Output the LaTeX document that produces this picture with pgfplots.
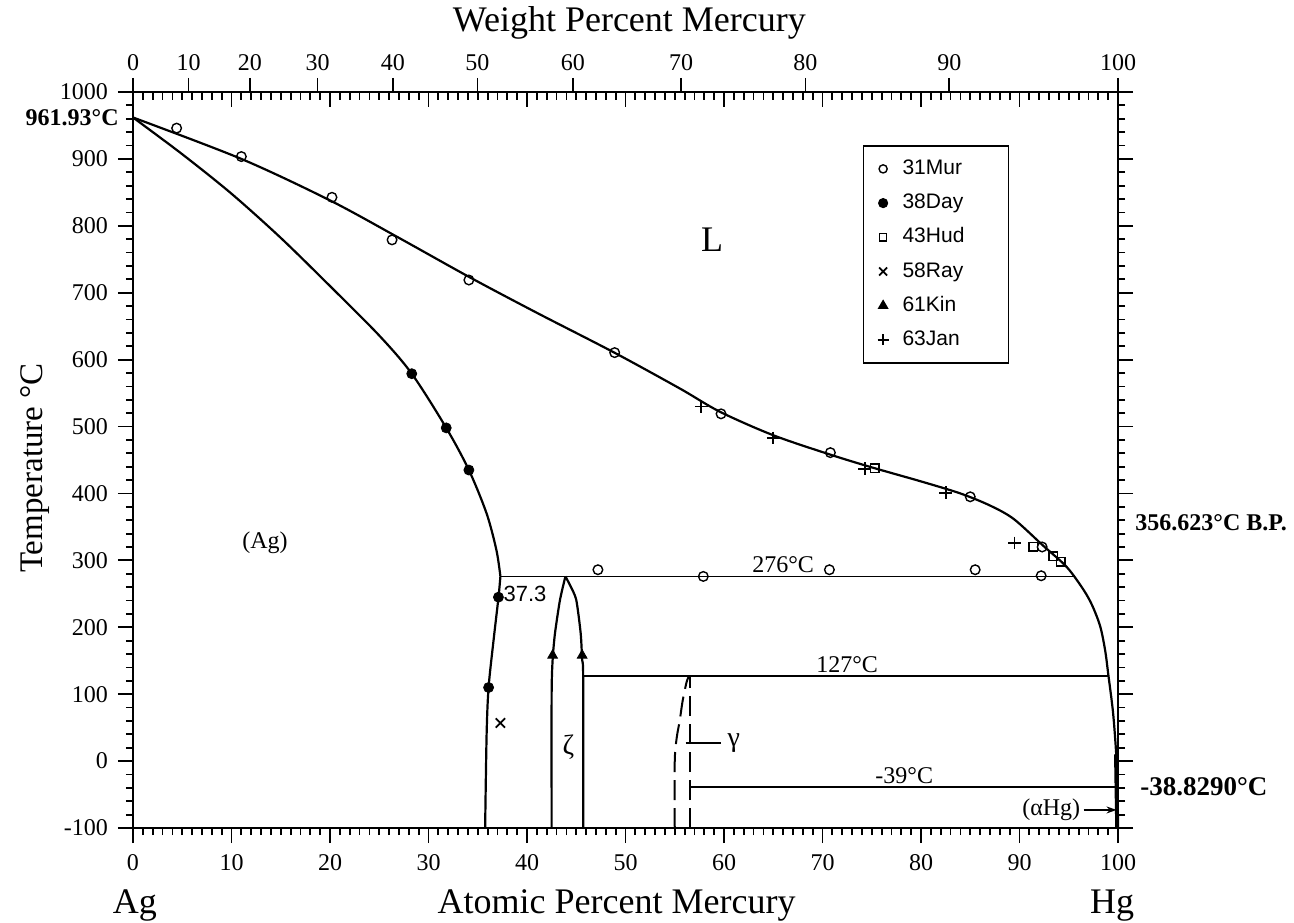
\documentclass[border=0pt]{standalone}
\usepackage{pgfplots}
\pgfplotsset{compat=1.18}
\usepackage{fontspec}
\setmainfont{Liberation Serif}
\newfontfamily\sans{Liberation Sans}
\usetikzlibrary{arrows.meta}
\begin{document}
\begin{tikzpicture}
\pgfplotsset{
  base/.style={scale only axis, width=492.5pt, height=368pt,
    xmin=0, xmax=100, ymin=-100, ymax=1000,
    axis line style={line width=1.3pt},
    tick style={line width=0.9pt, black},
    ticklabel style={font=\fontsize{12}{14}\selectfont}},
}
% top: inner atomic-percent ticks
\begin{axis}[base, xtick pos=upper, ytick=\empty, tick align=inside,
  xtick={0,10,...,100}, minor xtick={0,1,...,100}, xticklabels={},
  major tick length=7.5pt, minor tick length=4pt]
\end{axis}
% top: weight-percent ticks
\begin{axis}[base, xtick pos=upper, ytick=\empty, tick align=outside,
  xticklabel pos=upper,
  xtick={0,5.638,11.853,18.731,26.387,34.969,44.646,55.649,68.265,82.876,100},
  xticklabels={0,10,20,30,40,50,60,70,80,90,100},
  major tick length=7pt]
\end{axis}
\begin{axis}[base, tick align=outside, xtick pos=lower, ytick pos=both, yticklabel pos=left,
  xtick={0,10,...,100}, minor xtick={0,1,...,100},
  xticklabels={0,10,20,30,40,50,60,70,80,90,100},
  ytick={-100,0,100,200,300,400,500,600,700,800,900,1000},
  yticklabels={-100,0,100,200,300,400,500,600,700,800,900,1000},
  minor ytick={-80,-60,...,980},
  major tick length=7.5pt, minor tick length=3.5pt,
  xticklabel style={yshift=-2pt}, yticklabel style={xshift=-1.5pt},
  legend style={at={(0.741,0.928)}, anchor=north west, draw=black, line width=0.8pt,
    font=\sans\fontsize{10.5}{12}\selectfont, inner xsep=7pt, inner ysep=3pt,
    row sep=0pt, column sep=5pt, cells={anchor=west},
    nodes={text height=8pt, text depth=2.5pt, inner ysep=3.3pt}},
  legend image post style={scale=0.85},
  clip=false]
% ---- data marks (legend) ----
\addplot[only marks, mark=o, mark size=2.4pt, mark options={fill=white, line width=0.7pt}] coordinates {
 (4.43,946) (11.0,903.5) (20.2,842.6) (26.3,779) (34.1,719) (48.9,610.5) (59.7,519)
 (70.8,461) (85.0,395) (47.2,286) (57.9,276) (70.7,286) (85.5,286) (92.2,277) (92.3,320)};
\addlegendentry{\makebox[44pt][l]{31Mur}}
\addplot[only marks, mark=*, mark size=2.5pt] coordinates {
 (28.3,579) (31.8,498) (34.1,435) (37.1,245) (36.1,110)};
\addlegendentry{38Day}
\addplot[only marks, mark=square, mark size=2.1pt, mark options={fill=white, line width=0.7pt}] coordinates {
 (75.3,438) (91.4,320) (93.4,306) (94.2,298)};
\addlegendentry{43Hud}
\addplot[only marks, mark=x, mark size=3.3pt, mark options={line width=0.9pt}] coordinates {(37.3,57)};
\addlegendentry{58Ray}
\addplot[only marks, mark=triangle*, mark size=2.8pt] coordinates {(42.6,158) (45.6,158)};
\addlegendentry{61Kin}
\addplot[only marks, mark=+, mark size=3.2pt, mark options={line width=0.9pt}] coordinates {
 (57.7,530) (65.0,483) (74.3,437) (82.5,401) (89.5,326)};
\addlegendentry{63Jan}
% ---- phase boundaries ----
\addplot[forget plot, black, line width=1.1pt, smooth, tension=0.5] coordinates {
 (0,961.93) (11,900) (20,838) (27,782) (34.2,723) (41,670) (48.8,611) (55.5,557)
 (59.6,522) (65,487) (70.8,458) (75,439) (80,418) (84,400) (87,382) (89.4,362)
 (92.4,322) (94.8,290) (96.5,256) (97.4,232) (98.2,201) (98.7,165) (99.0,131)
 (99.5,72) (99.83,7) (99.92,-38.8)};
\addplot[forget plot, black, line width=1.1pt, smooth, tension=0.5] coordinates {
 (0,961.93) (5,907) (10,848) (15,782) (20,710) (25,636) (28.3,579) (31.8,498) (34.1,435)
 (35.9,370) (36.9,315) (37.3,276)};
\addplot[forget plot, black, line width=1.1pt, smooth, tension=0.5] coordinates {
 (37.3,276) (37.1,244) (36.6,180) (36.1,110) (35.9,40) (35.75,-100)};
\addplot[forget plot, black, line width=1.1pt, smooth, tension=0.4] coordinates {
 (42.5,-100) (42.5,100) (42.6,151) (42.84,191) (43.35,241) (43.9,276)};
\addplot[forget plot, black, line width=1.1pt, smooth, tension=0.4] coordinates {
 (43.9,276) (44.4,262) (45.0,241) (45.45,191) (45.6,151) (45.7,127) (45.7,-100)};
\addplot[forget plot, black, line width=0.9pt] coordinates {(37.3,276) (95.5,276)};
\addplot[forget plot, black, line width=0.9pt] coordinates {(45.7,127) (99.03,127)};
\addplot[forget plot, black, line width=0.9pt] coordinates {(56.5,-39) (99.92,-39)};
\addplot[forget plot, black, line width=2pt] coordinates {(99.8,10) (99.92,-100)};
\addplot[forget plot, black, line width=1pt, dash pattern=on 10pt off 4pt] coordinates {(56.5,-100) (56.5,127)};
\addplot[forget plot, black, line width=1pt, dash pattern=on 10pt off 4pt, smooth, tension=0.5] coordinates {
 (55.0,-100) (55.0,0) (55.2,35) (55.5,60) (55.8,90) (56.2,118) (56.45,127)};
\addplot[forget plot, black, line width=0.7pt] coordinates {(56.1,27) (59.7,27)};
\addplot[forget plot, black, line width=0.7pt, -{Stealth[length=5pt,width=3.5pt]}] coordinates {(96.5,-73) (99.85,-73)};
% ---- labels ----
\node[font=\fontsize{18}{20}\selectfont] at (axis cs:58.8,779) {L};
\node[font=\fontsize{12}{14}\selectfont] at (axis cs:13.4,326) {(Ag)};
\node[font=\fontsize{12}{14}\selectfont, anchor=south, inner sep=1.5pt] at (axis cs:66.0,276) {276°C};
\node[font=\fontsize{12}{14}\selectfont, anchor=south, inner sep=1.5pt] at (axis cs:72.5,127) {127°C};
\node[font=\fontsize{12}{14}\selectfont, anchor=south, inner sep=1.5pt] at (axis cs:78.3,-39) {-39°C};
\node[font=\sans\fontsize{11}{13}\selectfont] at (axis cs:39.8,250) {37.3};
\node[font=\fontsize{14}{16}\selectfont] at (axis cs:44.2,21) {ζ};
\node[font=\fontsize{14}{16}\selectfont] at (axis cs:61.0,27) {γ};
\node[font=\fontsize{12}{14}\selectfont, anchor=east, inner sep=1pt] at (axis cs:96.4,-73) {(αHg)};
\node[font=\bfseries\fontsize{12}{14}\selectfont, anchor=east, inner sep=0pt, xshift=-7pt] at (axis cs:0,961.93) {961.93°C};
\node[font=\bfseries\fontsize{12}{14}\selectfont, anchor=west, inner sep=0pt, xshift=8.5pt] at (axis cs:100,356.6) {356.623°C B.P.};
\node[font=\bfseries\fontsize{13.5}{15}\selectfont, anchor=west, inner sep=0pt, xshift=11pt] at (axis cs:100,-38.83) {-38.8290°C};
\node[font=\fontsize{18}{20}\selectfont, anchor=base, yshift=-42.5pt] at (axis cs:0.2,-100) {Ag};
\node[font=\fontsize{18}{20}\selectfont, anchor=base, yshift=-42.5pt] at (axis cs:99.4,-100) {Hg};
\node[font=\fontsize{18}{20}\selectfont, anchor=base, yshift=-42.5pt] at (rel axis cs:0.491,0) {Atomic Percent Mercury};
\node[font=\fontsize{18}{20}\selectfont, anchor=base, yshift=30pt] at (rel axis cs:0.504,1) {Weight Percent Mercury};
\node[font=\fontsize{16.5}{18}\selectfont, rotate=90] at ([xshift=-49pt]rel axis cs:0,0.489) {Temperature °C};
\coordinate (SW) at (rel axis cs:0,0);
\coordinate (NE) at (rel axis cs:1,1);
\end{axis}
\pgfresetboundingbox
\path[use as bounding box] ([xshift=-66.5pt,yshift=-47pt]SW) rectangle ([xshift=88pt,yshift=46pt]NE);
\end{tikzpicture}
\end{document}
